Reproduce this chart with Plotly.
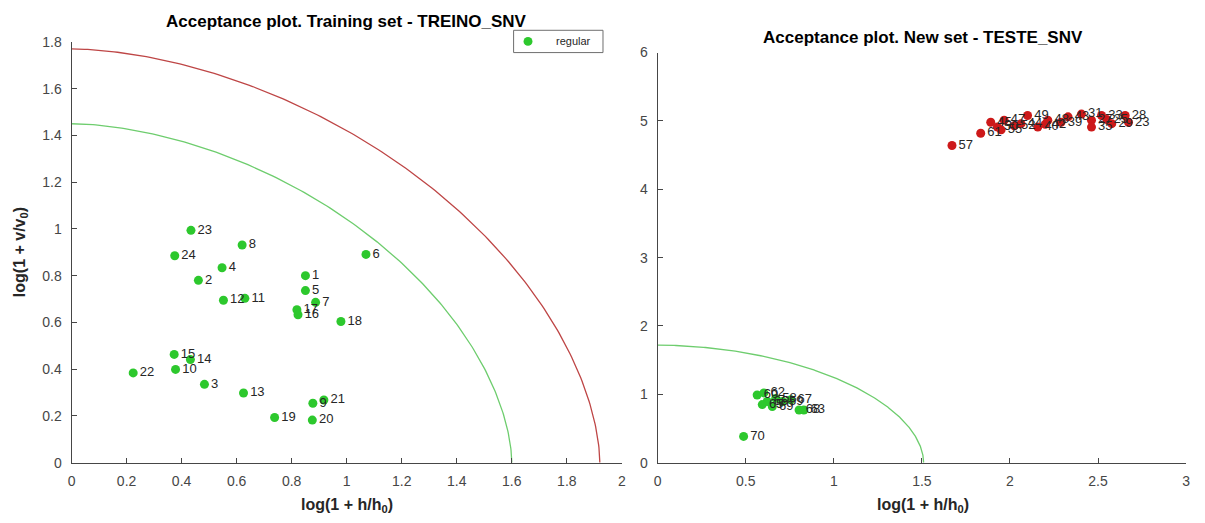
import numpy as np
import plotly.graph_objects as go

# ---------------- data ----------------
train_labels = ["23", "8", "24", "6", "4", "2", "1", "5", "12", "11", "7", "17",
                "16", "18", "15", "14", "10", "22", "3", "13", "9", "21", "19", "20"]
train_x = [0.434, 0.620, 0.375, 1.070, 0.547, 0.461, 0.850, 0.850, 0.552, 0.630, 0.887, 0.819,
           0.823, 0.979, 0.373, 0.432, 0.378, 0.224, 0.483, 0.625, 0.877, 0.917, 0.738, 0.875]
train_y = [0.994, 0.931, 0.885, 0.891, 0.834, 0.780, 0.800, 0.736, 0.695, 0.703, 0.686, 0.654,
           0.633, 0.604, 0.463, 0.441, 0.399, 0.384, 0.335, 0.298, 0.254, 0.268, 0.193, 0.182]

new_reg_labels = ["60", "62", "66", "65", "69", "58", "59", "67", "68", "63", "70"]
new_reg_x = [0.565, 0.603, 0.622, 0.594, 0.651, 0.670, 0.708, 0.756, 0.803, 0.830, 0.488]
new_reg_y = [0.99, 1.02, 0.895, 0.85, 0.82, 0.94, 0.895, 0.92, 0.77, 0.77, 0.384]

new_out_labels = ["57", "61", "45", "50", "47", "52", "44", "49", "40", "48", "39", "43",
                  "31", "27", "35", "33", "29", "28", "23", "55", "42", "25"]
new_out_x = [1.671, 1.834, 1.891, 1.929, 1.967, 2.025, 2.063, 2.100, 2.158, 2.215, 2.290, 2.330,
             2.406, 2.463, 2.463, 2.520, 2.578, 2.654, 2.673, 1.950, 2.200, 2.550]
new_out_y = [4.64, 4.82, 4.98, 4.91, 5.01, 4.93, 4.96, 5.08, 4.91, 5.01, 4.98, 5.06,
             5.10, 5.01, 4.91, 5.08, 4.96, 5.08, 4.98, 4.87, 4.95, 5.02]

# acceptance boundaries: (x-intercept, y-intercept, exponent)
train_accept = (1.60, 1.45, 1.75)
train_outlier = (1.92, 1.77, 1.75)
new_accept = (1.51, 1.72, 1.9)

GREEN = "rgb(45,200,45)"
RED = "rgb(205,25,25)"
TXT = "rgb(38,38,38)"
TICK = "rgb(70,70,70)"
FONT = "Liberation Sans, Arial, sans-serif"


def boundary(a, b, p, n=200):
    t = np.linspace(0, np.pi / 2, n)
    return a * np.cos(t) ** (2 / p), b * np.sin(t) ** (2 / p)


fig = go.Figure()

cx, cy = boundary(*train_accept)
fig.add_trace(go.Scatter(x=cx, y=cy, mode="lines", line=dict(color="rgb(110,205,110)", width=1.3),
                         showlegend=False, hoverinfo="skip", xaxis="x", yaxis="y"))
cx, cy = boundary(*train_outlier)
fig.add_trace(go.Scatter(x=cx, y=cy, mode="lines", line=dict(color="rgb(190,70,70)", width=1.3),
                         showlegend=False, hoverinfo="skip", xaxis="x", yaxis="y"))
fig.add_trace(go.Scatter(x=train_x, y=train_y, mode="markers+text", text=train_labels,
                         textposition="middle right", textfont=dict(size=13, color=TXT, family=FONT),
                         marker=dict(color=GREEN, size=9), name="regular", showlegend=False,
                         xaxis="x", yaxis="y"))

cx, cy = boundary(*new_accept)
fig.add_trace(go.Scatter(x=cx, y=cy, mode="lines", line=dict(color="rgb(110,205,110)", width=1.3),
                         showlegend=False, hoverinfo="skip", xaxis="x2", yaxis="y2"))
fig.add_trace(go.Scatter(x=new_reg_x, y=new_reg_y, mode="markers+text", text=new_reg_labels,
                         textposition="middle right", textfont=dict(size=13, color=TXT, family=FONT),
                         marker=dict(color=GREEN, size=9), showlegend=False,
                         xaxis="x2", yaxis="y2"))
fig.add_trace(go.Scatter(x=new_out_x, y=new_out_y, mode="markers+text", text=new_out_labels,
                         textposition="middle right", textfont=dict(size=13, color=TXT, family=FONT),
                         marker=dict(color=RED, size=9), showlegend=False,
                         xaxis="x2", yaxis="y2"))

W, H = 1205, 523
axis_common = dict(showgrid=False, zeroline=False, showline=True, linecolor="rgb(70,70,70)",
                   linewidth=1, ticks="inside", ticklen=5, tickcolor="rgb(70,70,70)",
                   tickfont=dict(size=14, color=TICK, family=FONT), mirror=False,
                   ticklabelstandoff=6)

TOP_L, TOP_R, BOT = 35, 46, 469

fig.update_layout(
    width=W, height=H, margin=dict(l=0, r=0, t=0, b=0),
    paper_bgcolor="white", plot_bgcolor="white",
    font=dict(family=FONT, color=TXT),
    showlegend=False,
    xaxis=dict(domain=[68 / W, 622 / W], range=[0, 2], dtick=0.2, anchor="y", **axis_common),
    yaxis=dict(domain=[1 - BOT / H, 1 - TOP_L / H], range=[0, 1.8], dtick=0.2, anchor="x", **axis_common),
    xaxis2=dict(domain=[658 / W, 1190 / W], range=[0, 3], dtick=0.5, anchor="y2", **axis_common),
    yaxis2=dict(domain=[1 - BOT / H, 1 - TOP_R / H], range=[0, 6], dtick=1, anchor="x2", **axis_common),
    shapes=[
        # legend box
        dict(type="rect", xref="paper", yref="paper", x0=513 / W, x1=603 / W,
             y0=1 - 46 / H, y1=1 - 23 / H, line=dict(color="rgb(110,110,110)", width=1),
             fillcolor="white", layer="above"),
        dict(type="circle", xref="paper", yref="paper", x0=523 / W, x1=532 / W,
             y0=1 - 39 / H, y1=1 - 30 / H, line=dict(width=0), fillcolor=GREEN, layer="above"),
    ],
    annotations=[
        dict(text="regular", x=554 / W, y=1 - 34.5 / H, xanchor="left", yanchor="middle",
             xref="paper", yref="paper", showarrow=False, font=dict(size=11, color=TXT, family=FONT)),
        dict(text="<b>Acceptance plot. Training set - TREINO_SNV</b>", x=345 / W, y=1 - 14 / H,
             xanchor="center", yanchor="middle",
             xref="paper", yref="paper", showarrow=False, font=dict(size=17, color="black", family=FONT)),
        dict(text="<b>Acceptance plot. New set - TESTE_SNV</b>", x=925 / W, y=1 - 30 / H,
             xanchor="center", yanchor="middle",
             xref="paper", yref="paper", showarrow=False, font=dict(size=17, color="black", family=FONT)),
        dict(text="<b>log(1 + h/h<sub>0</sub>)</b>", x=345 / W, y=1 - 513 / H,
             xanchor="center", yanchor="middle",
             xref="paper", yref="paper", showarrow=False, font=dict(size=16, color=TXT, family=FONT)),
        dict(text="<b>log(1 + h/h<sub>0</sub>)</b>", x=925 / W, y=1 - 513 / H,
             xanchor="center", yanchor="middle",
             xref="paper", yref="paper", showarrow=False, font=dict(size=16, color=TXT, family=FONT)),
        dict(text="<b>log(1 + v/v<sub>0</sub>)</b>", x=16 / W, y=1 - 252 / H, textangle=-90,
             xanchor="center", yanchor="middle",
             xref="paper", yref="paper", showarrow=False, font=dict(size=16, color=TXT, family=FONT)),
    ],
)

fig.write_html("out.html")
